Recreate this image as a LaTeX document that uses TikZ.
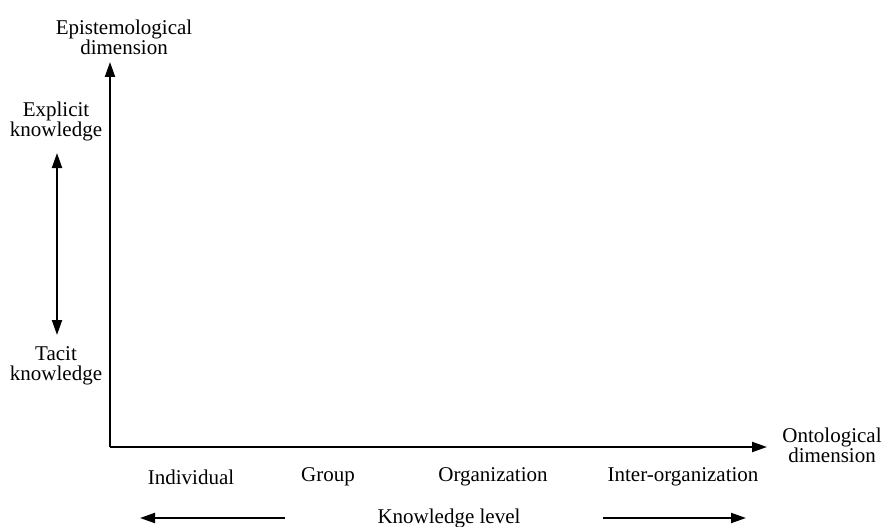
\documentclass[tikz,border=0pt]{standalone}
\usepackage{fontspec}
\setmainfont{Liberation Serif}
\usetikzlibrary{arrows.meta}
\begin{document}
\begin{tikzpicture}[x=1pt,y=-1pt,
  lbl/.style={font=\fontsize{21}{20}\selectfont, align=center, inner sep=0pt},
  axis/.style={line width=2pt, -{Triangle[length=15pt,width=10pt]}},
  both/.style={line width=2pt, {Triangle[length=15pt,width=10pt]}-{Triangle[length=15pt,width=10pt]}}]
\useasboundingbox (0,0) rectangle (884,527);
\coordinate (O) at (110,447);
\coordinate (ytip) at (110,62);
\coordinate (xtip) at (767,447);
\coordinate (dtop) at (57,153);
\coordinate (dbot) at (57,335);
\coordinate (lstart) at (285,518);
\coordinate (ltip) at (140,518);
\coordinate (rstart) at (603,518);
\coordinate (rtip) at (746,518);
\node[lbl] (epi) at (124,37) {Epistemological\\dimension};
\node[lbl] (exp) at (56,121) {Explicit\\knowledge};
\node[lbl] (tac) at (56,366) {Tacit\\knowledge};
\node[lbl] (ont) at (832,445) {Ontological\\dimension};
\node[lbl] (ind) at (191,477) {Individual};
\node[lbl] (grp) at (328,477) {Group};
\node[lbl] (org) at (493,477) {Organization};
\node[lbl] (inter) at (683,477) {Inter-organization};
\node[lbl] (kl) at (449,518) {Knowledge level};
\draw[axis] (O) -- (ytip);
\draw[axis] (O) -- (xtip);
\draw[line width=2pt] (O) -- (110,446);
\draw[both] (dtop) -- (dbot);
\draw[axis] (lstart) -- (ltip);
\draw[axis] (rstart) -- (rtip);
\end{tikzpicture}
\end{document}
